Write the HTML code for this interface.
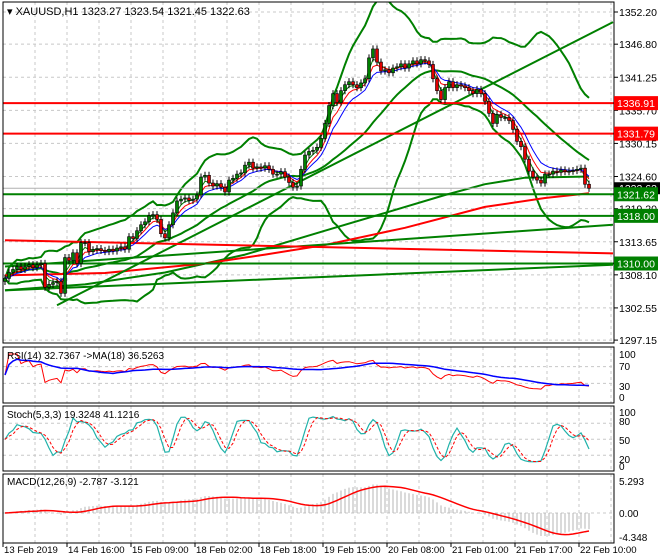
<!DOCTYPE html>
<html><head><meta charset="utf-8"><style>
html,body{margin:0;padding:0;background:#fff;}
svg{display:block;font-family:"Liberation Sans",sans-serif;}
</style></head><body>
<svg id="chart" width="660" height="560" viewBox="0 0 660 560" xmlns="http://www.w3.org/2000/svg">
<defs>
<clipPath id="cm"><rect x="3" y="2" width="611" height="341"/></clipPath>
<clipPath id="cr"><rect x="3" y="347" width="611" height="56"/></clipPath>
<clipPath id="cs"><rect x="3" y="406" width="611" height="65"/></clipPath>
<clipPath id="cd"><rect x="3" y="474" width="611" height="69"/></clipPath>
</defs>
<g id="grid"></g>
<g id="main" clip-path="url(#cm)"></g>
<g id="rsi" clip-path="url(#cr)"></g>
<g id="sto" clip-path="url(#cs)"></g>
<g id="macd" clip-path="url(#cd)"></g>
<g id="frame"></g>
<g id="labels"></g>
</svg>
<script>
const closes=[1307.5,1308.5,1309,1309.5,1309,1309.5,1309.8,1309.3,1309.8,1310,
1306,1306.5,1306.8,1307,1305,1311,1310.5,1311.8,1310,1313.5,
1313.5,1312,1312.3,1312.5,1312.2,1312,1312.4,1312.1,1312.6,1312.8,
1312.4,1314.5,1314.2,1315.5,1316.5,1317,1318,1318.2,1317.4,1315,
1314.3,1316.5,1318.5,1320.5,1320.8,1321,1320.6,1320.8,1321.5,1324.5,
1324.8,1323.5,1323,1323.4,1322.8,1322,1324,1324.3,1325,1325.2,
1326.5,1327,1326,1326.2,1326,1326.4,1325.8,1325,1325,1325.4,
1324.5,1323.6,1322.8,1323,1325.8,1328.2,1328.8,1329,1329.5,1331,
1333.5,1336.5,1338.5,1337,1339,1340,1340.5,1340,1339.5,1340.3,
1341,1344.5,1346,1343.8,1342.3,1342.5,1342,1342.8,1343,1343.5,
1342.8,1343.5,1344,1343.5,1344.2,1344,1343.4,1341,1339,1337.5,
1339.5,1340.5,1339.5,1340,1339.8,1339.5,1339,1338.5,1339.2,1338.5,
1337.2,1335.2,1333.5,1335,1334.5,1334.5,1334,1332.5,1330.5,1329.6,
1327.5,1325.5,1324.5,1324,1323.5,1325,1325,1325.5,1325.3,1325.7,
1325.4,1325.5,1325.6,1325.8,1326,1323.3,1322.63];
const priceTicks=[1352.20,1346.80,1341.25,1335.70,1330.15,1324.60,1319.20,1313.65,1308.10,1302.55,1297.15];
const dateLabels=["13 Feb 2019","14 Feb 16:00","15 Feb 09:00","18 Feb 02:00","18 Feb 18:00","19 Feb 15:00","20 Feb 08:00","21 Feb 01:00","21 Feb 17:00","22 Feb 10:00"];
const dateBars=[0,16,32,48,64,80,96,112,128,144];
const hLevels=[1336.91,1331.79,1321.62,1318.00,1310.00];
const hColors=["red","red","green","green","green"];
const trendFrom=[[0,1309.5],[0,1305.5],[13,1303.0],[0,1313.9]];
const trendTo=[[152,1316.5],[152,1309.8],[152,1350.5],[152,1311.7]];
const trendColors=["green","green","green","red"];
const slowGreenBars=[0,20,40,60,80,95,110,120,130,146];
const slowGreenVals=[1305.5,1306.5,1308.5,1311.5,1315.5,1318.5,1321.5,1323.3,1324.4,1324.6];
const slowRedBars=[0,25,50,65,80,100,120,135,146];
const slowRedVals=[1308.0,1308.4,1310.0,1311.5,1313.1,1316.0,1319.5,1321.0,1321.8];

const NS="http://www.w3.org/2000/svg";
const X=i=>5+4*i;
const Y=p=>12+(1352.2-p)*5.96;
function el(parent,tag,attrs,text){const e=document.createElementNS(NS,tag);for(const k in attrs)e.setAttribute(k,attrs[k]);if(text!==undefined)e.textContent=text;document.getElementById(parent).appendChild(e);return e;}
function poly(parent,vals,yf,color,w,name,dash){let pts=[];vals.forEach((v,i)=>{if(v!=null)pts.push(X(i)+","+yf(v).toFixed(1));});const e=el(parent,"polyline",{points:pts.join(" "),fill:"none",stroke:color,"stroke-width":w});if(dash)e.setAttribute("stroke-dasharray",dash);


return e;}
function knots(parent,bars,vals,color,name){const pts=bars.map((b,k)=>X(b)+","+Y(vals[k]).toFixed(1)).join(" ");const e=el(parent,"polyline",{points:pts,fill:"none",stroke:color,"stroke-width":2,"stroke-linejoin":"round"});

}
function sma(a,n){return a.map((v,i)=>{const s=Math.max(0,i-n+1);let t=0;for(let j=s;j<=i;j++)t+=a[j];return t/(i-s+1);});}
function ema(a,n){const k=2/(n+1);let r=[];a.forEach((v,i)=>r.push(i?v*k+r[i-1]*(1-k):v));return r;}
function sd(a,n){const m=sma(a,n);return a.map((v,i)=>{const s=Math.max(0,i-n+1);let t=0;for(let j=s;j<=i;j++)t+=(a[j]-m[i])**2;return Math.sqrt(t/(i-s+1));});}

for(let k=0;k<19;k++){const gx=35+32*k;[[2,343],[347,403],[406,471],[474,543]].forEach(r=>{const g=el("grid","line",{x1:gx,y1:r[0],x2:gx,y2:r[1],stroke:"#c8c8c8","stroke-dasharray":"3,3"});

});}
priceTicks.forEach(p=>{const g=el("grid","line",{x1:3,y1:Y(p),x2:614,y2:Y(p),stroke:"#c8c8c8","stroke-dasharray":"3,3"});

});
const rsiY=v=>396-v*0.42, stoY=v=>466-v*0.535, macdY=v=>513-v*5.95;
[70,30].forEach(v=>el("grid","line",{x1:3,y1:rsiY(v),x2:614,y2:rsiY(v),stroke:"#c8c8c8","stroke-dasharray":"3,3"}));
[80,50,20].forEach(v=>el("grid","line",{x1:3,y1:stoY(v),x2:614,y2:stoY(v),stroke:"#c8c8c8","stroke-dasharray":"3,3"}));
el("grid","line",{x1:3,y1:macdY(0),x2:614,y2:macdY(0),stroke:"#c8c8c8","stroke-dasharray":"3,3"});

const bbM=sma(closes,24),bbS=sd(closes,24);
poly("main",bbM.map((m,i)=>m+2.7*bbS[i]),Y,"green",2,"bollinger-upper");
poly("main",bbM.map((m,i)=>m-2.7*bbS[i]),Y,"green",2,"bollinger-lower");
poly("main",bbM,Y,"green",2,"bollinger-middle");
knots("main",slowGreenBars,slowGreenVals,"green","slow-ma-green");
knots("main",slowRedBars,slowRedVals,"red","slow-ma-red");
trendFrom.forEach((f,k)=>{const t=trendTo[k];const l=el("main","line",{x1:X(f[0]),y1:Y(f[1]),x2:X(t[0]),y2:Y(t[1]),stroke:trendColors[k],"stroke-width":2});

});
hLevels.forEach((p,k)=>{const l=el("main","line",{x1:3,y1:Y(p),x2:614,y2:Y(p),stroke:hColors[k],"stroke-width":2});

});
el("main","line",{x1:3,y1:Y(1322.63),x2:614,y2:Y(1322.63),stroke:"#b0b0b0","stroke-width":1});
poly("main",ema(closes,3),Y,"green",1,"ema-fast");
poly("main",ema(closes,5),Y,"red",1,"ema-mid");
poly("main",ema(closes,8),Y,"blue",1,"ema-slow");
closes.forEach((c,i)=>{const o=i?closes[i-1]:c-0.5;const hi=Math.max(o,c)+0.6,lo=Math.min(o,c)-0.6;
const w=el("main","line",{x1:X(i),y1:Y(hi),x2:X(i),y2:Y(lo),stroke:"#000","stroke-width":1});


const top=Y(Math.max(o,c)),h=Math.max(1,Math.abs(Y(o)-Y(c)));
const b=el("main","rect",{x:X(i)-1.5,y:top,width:3,height:h,fill:c>=o?"#008000":"#e00000",stroke:"#000","stroke-width":0.6});

});

let rs=[50];{let ag=0,al=0;for(let i=1;i<closes.length;i++){const d=closes[i]-closes[i-1];ag=(ag*13+Math.max(d,0))/14;al=(al*13+Math.max(-d,0))/14;rs.push(al===0?100:100-100/(1+ag/al));}}
poly("rsi",rs,rsiY,"red",1,"rsi-line");
poly("rsi",sma(rs,18),rsiY,"blue",1.5,"rsi-ma");
let kRaw=closes.map((c,i)=>{const s=Math.max(0,i-4);const w=closes.slice(s,i+1).map(v=>[v+0.6,v-0.6]);const hh=Math.max(...w.map(a=>a[0])),ll=Math.min(...w.map(a=>a[1]));return hh===ll?50:100*(c-ll)/(hh-ll);});
const kS=sma(kRaw,3),dS=sma(kS,3);
poly("sto",kS,stoY,"#20b2aa",1.2,"stoch-main");
poly("sto",dS,stoY,"red",1,"stoch-signal","3,2");
const e26=ema(closes,26);const macd=ema(closes,12).map((v,i)=>v-e26[i]);const sig=sma(macd,9);
macd.forEach((m,i)=>{const l=el("macd","line",{x1:X(i),y1:macdY(0),x2:X(i),y2:macdY(m),stroke:"#b4b4b4","stroke-width":1});

});
poly("macd",sig,macdY,"red",1.5,"macd-signal");

[[2,343],[347,403],[406,471],[474,543]].forEach(r=>{const f=el("frame","rect",{x:3,y:r[0],width:611,height:r[1]-r[0],fill:"none",stroke:"#000","stroke-width":1});

});
priceTicks.forEach(p=>{el("labels","line",{x1:614,y1:Y(p),x2:618,y2:Y(p),stroke:"#000"});
const t=el("labels","text",{x:619,y:Y(p)+4,"font-size":"10.5"},p.toFixed(2));

});
el("labels","rect",{x:614,y:Y(1322.63)-6,width:46,height:12,fill:"#000"});
el("labels","text",{x:619,y:Y(1322.63)+4,"font-size":"10.5",fill:"#fff"},"1322.63");
hLevels.forEach((p,k)=>{const r=el("labels","rect",{x:614,y:Y(p)-7,width:44,height:14,fill:hColors[k]==="red"?"#ff0000":"#008000"});


const t=el("labels","text",{x:617,y:Y(p)+4,"font-size":"10.5",fill:"#fff"},p.toFixed(2));

});
[[100,354],[70,366],[30,386],[0,397]].forEach(a=>el("labels","text",{x:619,y:a[1]+4,"font-size":"10"},String(a[0])));
[[100,412],[80,421],[50,440],[20,459],[0,466]].forEach(a=>el("labels","text",{x:619,y:a[1]+4,"font-size":"10"},String(a[0])));
[["5.293",481],["0.00",513],["-4.348",537]].forEach(a=>el("labels","text",{x:619,y:a[1]+4,"font-size":"10"},a[0]));
dateLabels.forEach((d,k)=>{const x=3+dateBars[k]*4;el("labels","line",{x1:x,y1:543,x2:x,y2:547,stroke:"#000"});
const t=el("labels","text",{x:x+1,y:553,"font-size":"9.6"},d);

});
el("labels","text",{x:7,y:15,"font-size":"11"},"▾ XAUUSD,H1  1323.27 1323.54 1321.45 1322.63");
el("labels","text",{x:7,y:359,"font-size":"10"},"RSI(14) 32.7367  ->MA(18) 36.5263");
el("labels","text",{x:7,y:418,"font-size":"10"},"Stoch(5,3,3) 19.3248 41.1216");
el("labels","text",{x:7,y:485,"font-size":"10"},"MACD(12,26,9) -2.787 -3.121");
</script>
</body></html>
